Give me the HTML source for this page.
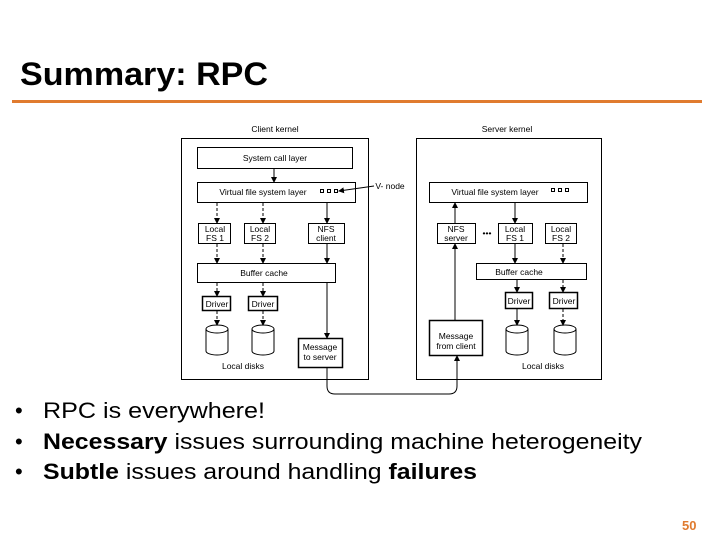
<!DOCTYPE html>
<html><head><meta charset="utf-8"><style>
html,body{margin:0;padding:0;background:#fff;}
svg{display:block;font-family:"Liberation Sans",Arial,sans-serif;}
</style></head><body>
<svg width="720" height="540" viewBox="0 0 720 540" xmlns="http://www.w3.org/2000/svg">
<defs>
<marker id="a" markerWidth="6" markerHeight="6" refX="5" refY="3" orient="auto" markerUnits="userSpaceOnUse"><path d="M0,0 L6,3 L0,6 z" fill="#000"/></marker>
</defs>
<text x="20" y="85" font-size="32" font-weight="bold" textLength="248" lengthAdjust="spacingAndGlyphs">Summary: RPC</text>
<rect x="12" y="100" width="690" height="3" fill="#e07b2f"/>

<g fill="none" stroke="#000" stroke-width="1">
<rect x="181.5" y="138.5" width="187" height="241"/>
<rect x="197.5" y="147.5" width="155" height="21"/>
<rect x="197.5" y="182.5" width="158" height="20"/>
<rect x="198.5" y="223.5" width="32" height="20"/>
<rect x="244.5" y="223.5" width="31" height="20"/>
<rect x="308.5" y="223.5" width="36" height="20"/>
<rect x="197.5" y="263.5" width="138" height="19"/>
<rect x="202.5" y="296.5" width="28" height="14" stroke-width="1.5"/>
<rect x="248.5" y="296.5" width="29" height="14" stroke-width="1.5"/>
<rect x="298.5" y="338.5" width="44" height="29" stroke-width="1.5"/>
<rect x="416.5" y="138.5" width="185" height="241"/>
<rect x="429.5" y="182.5" width="158" height="20"/>
<rect x="437.5" y="223.5" width="38" height="20"/>
<rect x="498.5" y="223.5" width="34" height="20"/>
<rect x="545.5" y="223.5" width="31" height="20"/>
<rect x="476.5" y="263.5" width="110" height="16"/>
<rect x="505.5" y="292.5" width="27" height="16" stroke-width="1.5"/>
<rect x="549.5" y="292.5" width="28" height="16" stroke-width="1.5"/>
<rect x="429.5" y="320.5" width="53" height="35" stroke-width="1.5"/>
<rect x="320.5" y="189.5" width="3" height="3"/><rect x="327.5" y="189.5" width="3" height="3"/><rect x="334.5" y="189.5" width="3" height="3"/>
<rect x="551.5" y="188.5" width="3" height="3"/><rect x="558.5" y="188.5" width="3" height="3"/><rect x="565.5" y="188.5" width="3" height="3"/>
</g>
<g fill="#fff" stroke="#000" stroke-width="1">
<path d="M206,329 v22 a11,4 0 0 0 22,0 v-22"/><ellipse cx="217" cy="329" rx="11" ry="4"/>
<path d="M252,329 v22 a11,4 0 0 0 22,0 v-22"/><ellipse cx="263" cy="329" rx="11" ry="4"/>
<path d="M506,329 v22 a11,4 0 0 0 22,0 v-22"/><ellipse cx="517" cy="329" rx="11" ry="4"/>
<path d="M554,329 v22 a11,4 0 0 0 22,0 v-22"/><ellipse cx="565" cy="329" rx="11" ry="4"/>
</g>
<g stroke="#000" stroke-width="1" fill="none" marker-end="url(#a)">
<line x1="274" y1="169" x2="274" y2="182"/>
<line x1="327" y1="203" x2="327" y2="223"/>
<line x1="327" y1="244" x2="327" y2="263"/>
<line x1="327" y1="283" x2="327" y2="338"/>
<line x1="374" y1="186" x2="339" y2="191"/>
<line x1="455" y1="320" x2="455" y2="244"/>
<line x1="455" y1="223" x2="455" y2="203"/>
<line x1="515" y1="203" x2="515" y2="223"/>
<line x1="515" y1="244" x2="515" y2="263"/>
<line x1="517" y1="280" x2="517" y2="292"/>
<line x1="517" y1="309" x2="517" y2="325"/>
<path d="M327,368 V386 q0,8 8,8 H449 q8,0 8,-8 V356"/>
</g>
<g stroke="#000" stroke-width="1" fill="none" stroke-dasharray="3,2" marker-end="url(#a)">
<line x1="217" y1="203" x2="217" y2="223"/>
<line x1="263" y1="203" x2="263" y2="223"/>
<line x1="217" y1="244" x2="217" y2="263"/>
<line x1="263" y1="244" x2="263" y2="263"/>
<line x1="217" y1="283" x2="217" y2="296"/>
<line x1="263" y1="283" x2="263" y2="296"/>
<line x1="217" y1="311" x2="217" y2="325"/>
<line x1="263" y1="311" x2="263" y2="325"/>
<line x1="563" y1="244" x2="563" y2="263"/>
<line x1="563" y1="280" x2="563" y2="292"/>
<line x1="563" y1="309" x2="563" y2="325"/>
</g>
<g font-size="8.5" text-anchor="middle" fill="#000">
<text x="275" y="132">Client kernel</text>
<text x="507" y="132">Server kernel</text>
<text x="275" y="161">System call layer</text>
<text x="263" y="195">Virtual file system layer</text>
<text x="495" y="195">Virtual file system layer</text>
<text x="390" y="189">V- node</text>
<text x="215" y="232">Local</text><text x="215" y="241">FS 1</text>
<text x="260" y="232">Local</text><text x="260" y="241">FS 2</text>
<text x="326" y="232">NFS</text><text x="326" y="241">client</text>
<text x="456" y="232">NFS</text><text x="456" y="241">server</text>
<text x="487" y="236">•••</text>
<text x="515" y="232">Local</text><text x="515" y="241">FS 1</text>
<text x="561" y="232">Local</text><text x="561" y="241">FS 2</text>
<text x="264" y="276">Buffer cache</text>
<text x="519" y="275">Buffer cache</text>
<text x="217" y="307">Driver</text><text x="263" y="307">Driver</text>
<text x="519" y="304">Driver</text><text x="564" y="304">Driver</text>
<text x="320" y="350">Message</text><text x="320" y="360">to server</text>
<text x="456" y="339">Message</text><text x="456" y="349">from client</text>
<text x="243" y="369">Local disks</text>
<text x="543" y="369">Local disks</text>
</g>

<g font-size="22" fill="#000">
<text x="15" y="418">•</text><text x="43" y="418" textLength="222" lengthAdjust="spacingAndGlyphs">RPC is everywhere!</text>
<text x="15" y="449">•</text><text x="43" y="449" textLength="599" lengthAdjust="spacingAndGlyphs"><tspan font-weight="bold">Necessary</tspan> issues surrounding machine heterogeneity</text>
<text x="15" y="479">•</text><text x="43" y="479" textLength="434" lengthAdjust="spacingAndGlyphs"><tspan font-weight="bold">Subtle</tspan> issues around handling <tspan font-weight="bold">failures</tspan></text>
</g>
<text x="682" y="530" font-size="13" font-weight="bold" fill="#e07b2f">50</text>
</svg>
</body></html>
